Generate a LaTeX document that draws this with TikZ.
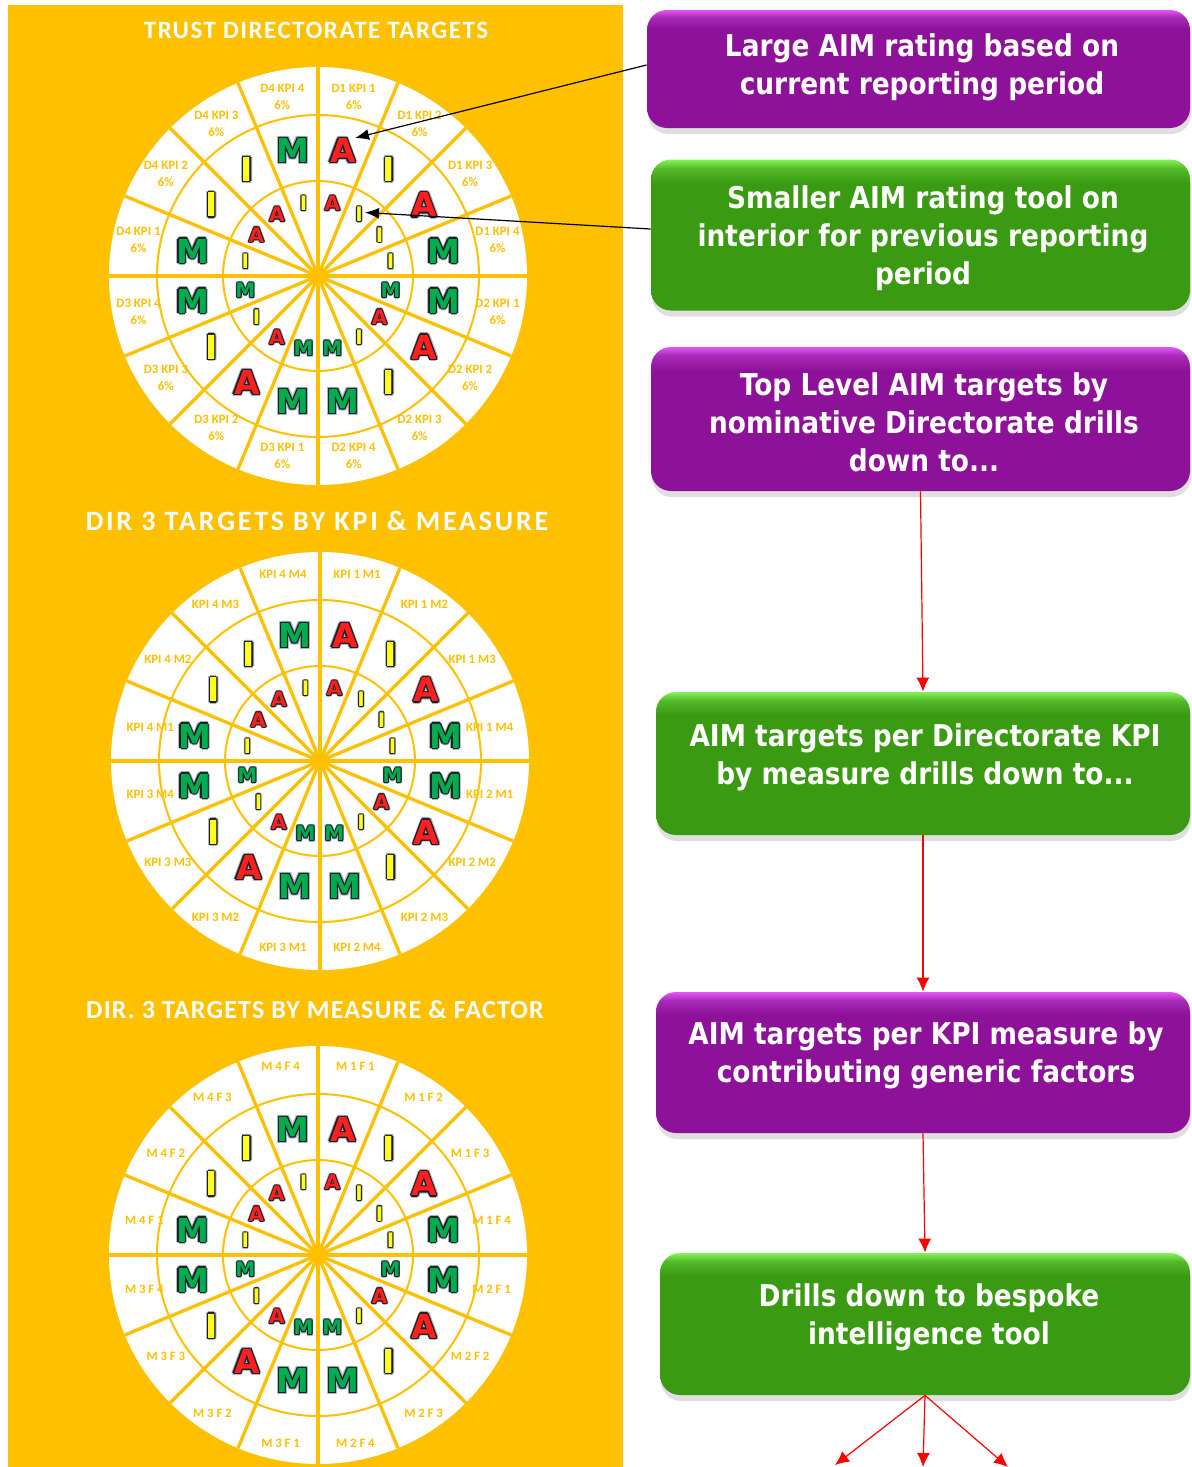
\documentclass[tikz,border=0pt]{standalone}
\usepackage{fontspec}
\setmainfont{DejaVu Sans}
\newfontfamily\boxfont{DejaVu Sans}[FakeStretch=0.88]
\newfontfamily\aimfont{DejaVu Sans}
\newfontfamily\lblfont{Carlito}
\usetikzlibrary{arrows.meta,shadows}

\definecolor{orng}{HTML}{FFC000}
\definecolor{pmain}{HTML}{8E1299}
\definecolor{pmid}{HTML}{A82AB8}
\definecolor{ptop}{HTML}{E455F4}
\definecolor{gmain}{HTML}{3A9A12}
\definecolor{gmid}{HTML}{52BA28}
\definecolor{gtop}{HTML}{86F25A}
\definecolor{colA}{HTML}{FF1F1F}
\definecolor{colI}{HTML}{FFFF1A}
\definecolor{colM}{HTML}{00AC50}
\definecolor{outl}{HTML}{1E1E1E}
\definecolor{glow}{HTML}{AAB6CC}

\pgfdeclareverticalshading{pshade}{100bp}{color(0bp)=(pmain); color(25bp)=(pmain); color(67bp)=(pmain); color(72bp)=(pmid); color(75bp)=(ptop); color(100bp)=(ptop)}
\pgfdeclareverticalshading{gshade}{100bp}{color(0bp)=(gmain); color(25bp)=(gmain); color(67bp)=(gmain); color(72bp)=(gmid); color(75bp)=(gtop); color(100bp)=(gtop)}

% letter with glow + outline: #1 position, #2 letter, #3 size (pt), #4 outline offset
\newcommand\aimltr[4]{%
  \foreach \o in {0,45,...,315}{\node[ltr,text=glow,shift={(\o:#4*1.8)}] at (#1) {\fontsize{#3}{#3}\selectfont #2};}%
  \foreach \o in {0,45,...,315}{\node[ltr,text=outl,shift={(\o:#4)}] at (#1) {\fontsize{#3}{#3}\selectfont #2};}%
  \node[ltr,text=col#2] at (#1) {\fontsize{#3}{#3}\selectfont #2};%
}

\newcommand\aimwheel{%
  \fill[white] (0,0) circle (209);
  \draw[orng,line width=1pt] (0,0) circle (161) (0,0) circle (95);
  \foreach \a in {0,22.5,...,157.5}{\draw[orng,line width=1.65pt] (\a:209) -- (\a+180:209);}
  \foreach \L [count=\k from 0] in {A,I,A,M,M,A,I,M,M,A,I,M,M,I,I,M}{%
    \pgfmathsetmacro\ang{78.75-22.5*\k}\aimltr{\ang:128}{\L}{16.5}{1.3}}
  \foreach \L [count=\k from 0] in {A,I,I,I,M,A,I,M,M,A,I,M,I,A,A,I}{%
    \pgfmathsetmacro\ang{78.75-22.5*\k}\aimltr{\ang:74}{\L}{10}{0.9}}
}

\begin{document}
\begin{tikzpicture}[x=0.5pt,y=0.5pt,
  ltr/.style={inner sep=0pt,outer sep=0pt,font=\aimfont\bfseries},
  lbl/.style={text=orng,inner sep=0pt,align=center,font=\lblfont\bfseries\fontsize{6.4}{8.5}\selectfont},
  ttl/.style={text=white,inner sep=0pt},
  pbox/.style={shade,shading=pshade,rounded corners=10pt,inner sep=0pt,
     drop shadow={opacity=0.25,shadow xshift=0.5pt,shadow yshift=-3pt}},
  gbox/.style={shade,shading=gshade,rounded corners=10pt,inner sep=0pt,
     drop shadow={opacity=0.25,shadow xshift=0.5pt,shadow yshift=-3pt}},
  btxt/.style={text=white,align=center,inner sep=0pt,font=\boxfont\bfseries\fontsize{15}{18.9}\selectfont},
  blkarrow/.style={draw=black,line width=0.6pt,-{Latex[length=7pt,width=5.5pt]}},
  redarrow/.style={draw=red,line width=0.6pt,-{Latex[length=7pt,width=6.5pt]}}]

\useasboundingbox (0,0) rectangle (1192,-1467);
\fill[white] (0,0) rectangle (1192,-1467);
\fill[orng] (8,-5) rectangle (623,-1467);

% titles
\node[ttl,font=\lblfont\bfseries\fontsize{12.5}{14}\selectfont\addfontfeatures{LetterSpace=6}] (t1) at (316,-30) {TRUST DIRECTORATE TARGETS};
\node[ttl,font=\lblfont\bfseries\fontsize{14}{16}\selectfont\addfontfeatures{LetterSpace=10}] (t2) at (317,-521) {DIR 3 TARGETS BY KPI \& MEASURE};
\node[ttl,font=\lblfont\bfseries\fontsize{13}{15}\selectfont\addfontfeatures{LetterSpace=4.5}] (t3) at (315,-1010) {DIR. 3 TARGETS BY MEASURE \& FACTOR};

% wheel 1
\begin{scope}[shift={(318,-276)}]
  \aimwheel
  \foreach \di in {1,...,4}{\foreach \qi in {1,...,4}{%
    \pgfmathsetmacro\ang{78.75-22.5*((\di-1)*4+\qi-1)}
    \node[lbl] at (\ang:183) {D{\di} KPI {\qi}\\6\%};}}
\end{scope}

% wheel 2
\begin{scope}[shift={(320,-761)}]
  \aimwheel
  \foreach \di in {1,...,4}{\foreach \qi in {1,...,4}{%
    \pgfmathtruncatemacro\k{(\di-1)*4+\qi-1}
    \pgfmathtruncatemacro\idx{mod(\k,8)}
    \pgfmathsetmacro\ang{78.75-22.5*\k}
    \edef\rr{\ifcase\idx\space 190\or 188\or 183\or 173\or 173\or 183\or 188\or 190\fi}
    \node[lbl] at (\ang:\rr) {KPI {\di} M{\qi}};}}
\end{scope}

% wheel 3
\begin{scope}[shift={(318,-1255)}]
  \aimwheel
  \foreach \di in {1,...,4}{\foreach \qi in {1,...,4}{%
    \pgfmathtruncatemacro\k{(\di-1)*4+\qi-1}
    \pgfmathtruncatemacro\idx{mod(\k,8)}
    \pgfmathsetmacro\ang{78.75-22.5*\k}
    \edef\rr{\ifcase\idx\space 192\or 190\or 183\or 177\or 177\or 183\or 190\or 192\fi}
    \node[lbl,font=\lblfont\bfseries\fontsize{6.4}{8.5}\selectfont\addfontfeatures{LetterSpace=22}] at (\ang:\rr) {M{\di}F{\qi}};}}
\end{scope}

% boxes
\node[pbox,minimum width=271.5pt,minimum height=59pt] (b1) at (918.5,-69) {};
\node[gbox,minimum width=269.5pt,minimum height=75.5pt] (b2) at (920.5,-235) {};
\node[pbox,minimum width=269.5pt,minimum height=72pt] (b3) at (920.5,-419) {};
\node[gbox,minimum width=267pt,minimum height=71.5pt] (b4) at (923,-763.5) {};
\node[pbox,minimum width=267pt,minimum height=70.5pt] (b5) at (923,-1062.5) {};
\node[gbox,minimum width=265pt,minimum height=71pt] (b6) at (925,-1324) {};

\node[btxt] (x1) at (922,-67.5) {Large AIM rating based on\\current reporting period};
\node[btxt] (x2) at (923,-238) {Smaller AIM rating tool on\\interior for previous reporting\\period};
\node[btxt] (x3) at (924,-422.5) {Top Level AIM targets by\\nominative Directorate drills\\down to...};
\node[btxt] (x4) at (925,-757) {AIM targets per Directorate KPI\\by measure drills down to...};
\node[btxt] (x5) at (926,-1055) {AIM targets per KPI measure by\\contributing generic factors};
\node[btxt] (x6) at (929,-1317.5) {Drills down to bespoke\\intelligence tool};

% pointer arrows
\coordinate (tipA) at (355,-138);
\coordinate (tipI) at (365,-212.5);
\draw[blkarrow] ([yshift=2pt]b1.west) -- (tipA);
\draw[blkarrow] ([yshift=3pt]b2.west) -- (tipI);

% drill-down arrows
\draw[redarrow] (b3.south) -- (b4.north);
\draw[redarrow] (b4.south) -- (b5.north);
\draw[redarrow] (b5.south) -- (b6.north);
\coordinate (e1) at (835,-1465);
\coordinate (e2) at (923,-1467);
\coordinate (e3) at (1008,-1467);
\draw[redarrow] (b6.south) -- (e1);
\draw[redarrow] (b6.south) -- (e2);
\draw[redarrow] (b6.south) -- (e3);
\end{tikzpicture}
\end{document}
